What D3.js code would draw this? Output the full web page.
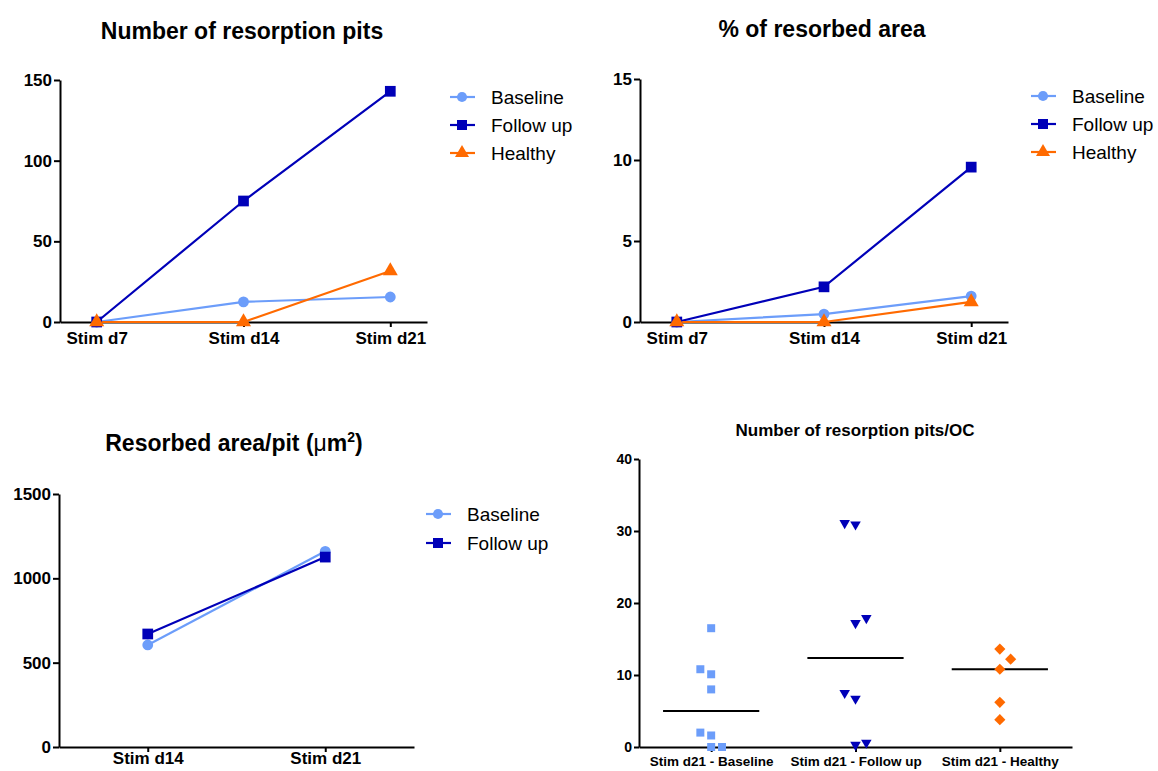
<!DOCTYPE html>
<html>
<head>
<meta charset="utf-8">
<script src="https://cdn.jsdelivr.net/npm/d3@7"></script>
<style>
  body { margin: 0; background: #fff; }
  svg { display: block; font-family: 'Liberation Sans', Arial, sans-serif; }
  .axis path, .axis line { stroke: #000; stroke-width: 2px; }
  .axis text { font-weight: bold; fill: #000; }
  .title { font-weight: bold; fill: #000; }
  .legend text { fill: #000; }
</style>
</head>
<body>
<div id="chart"></div>
<script>
// --- data ---
const days = ['Stim d7', 'Stim d14', 'Stim d21'];
const pitsBaseline = [0, 12.5, 15.5];
const pitsFollowUp = [0, 75, 143];
const pitsHealthy = [0, 0, 31.6];

const areaBaseline = [0, 0.49, 1.6];
const areaFollowUp = [0, 2.17, 9.56];
const areaHealthy = [0, 0, 1.24];

const perPitDays = ['Stim d14', 'Stim d21'];
const perPitBaseline = [605, 1160];
const perPitFollowUp = [670, 1126];

const ocGroups = ['Stim d21 - Baseline', 'Stim d21 - Follow up', 'Stim d21 - Healthy'];
const ocBaseline = [16.5, 10.8, 10.1, 8.0, 2.0, 1.6, 0, 0];
const ocBaselineSlot = [0, -1, 0, 0, -1, 0, 0, 1];
const ocFollowUp = [31.1, 30.9, 17.9, 17.2, 7.5, 6.7, 0.6, 0.3];
const ocFollowUpSlot = [-1, 0, 1, 0, -1, 0, 1, 0];
const ocHealthy = [13.6, 12.2, 10.8, 6.2, 3.8];
const ocHealthySlot = [0, 1, 0, 0, 0];

const colors = {'Baseline': '#6c9dfa', 'Follow up': '#0000b8', 'Healthy': '#ff6a00'};
const shapes = {'Baseline': d3.symbolCircle, 'Follow up': d3.symbolSquare, 'Healthy': d3.symbolTriangle};
const shapeSize = {'Baseline': 80, 'Follow up': 100, 'Healthy': 85};

const W = 1158, H = 771;
const svg = d3.select('#chart').append('svg').attr('width', W).attr('height', H);

const linePanel = (opt) => {
    const g = svg.append('g');
    const x = d3.scalePoint().domain(opt.cats).range(opt.xr).padding(opt.pad);
    const y = d3.scaleLinear().domain([0, opt.max]).range(opt.yr);

    g.append('g').attr('class', 'axis')
        .attr('transform', `translate(0,${opt.yr[0]})`)
        .call(d3.axisBottom(x).tickSize(5).tickSizeOuter(0).tickPadding(opt.xPad))
        .selectAll('text').style('font-size', '17px');
    g.append('g').attr('class', 'axis')
        .attr('transform', `translate(${opt.xr[0]},0)`)
        .call(d3.axisLeft(y).tickValues(opt.ticks).tickFormat(d3.format('d'))
            .tickSize(6).tickSizeOuter(0).tickPadding(2))
        .selectAll('text').style('font-size', '17px');

    const line = d3.line().x((d, i) => x(opt.cats[i])).y(d => y(d));
    opt.series.forEach(s => {
        g.append('path').datum(s.values)
            .attr('fill', 'none').attr('stroke', colors[s.name]).attr('stroke-width', 2.2)
            .attr('d', line);
    });
    opt.series.forEach(s => {
        g.selectAll(null).data(s.values).enter().append('path')
            .attr('transform', (d, i) => `translate(${x(opt.cats[i])},${y(d)})`)
            .attr('d', d3.symbol(shapes[s.name], shapeSize[s.name] * 1.15))
            .attr('fill', colors[s.name]);
    });

    g.append('text').attr('class', 'title')
        .attr('x', opt.titleX).attr('y', opt.titleY)
        .attr('text-anchor', 'middle').style('font-size', '23px')
        .call(opt.titleFn);

    const lg = g.append('g').attr('class', 'legend');
    opt.series.forEach((s, i) => {
        const yy = opt.legY + i * opt.legStep;
        lg.append('line').attr('x1', opt.legX - 12).attr('x2', opt.legX + 13)
            .attr('y1', yy).attr('y2', yy)
            .attr('stroke', colors[s.name]).attr('stroke-width', 2.2);
        lg.append('path').attr('transform', `translate(${opt.legX},${yy})`)
            .attr('d', d3.symbol(shapes[s.name], shapeSize[s.name]))
            .attr('fill', colors[s.name]);
        lg.append('text').attr('x', opt.legX + 29).attr('y', yy + 7)
            .style('font-size', '19px').text(s.name);
    });
};

linePanel({
    cats: days, xr: [60, 427], yr: [322, 80], pad: 0.25, max: 150, ticks: [0, 50, 100, 150], xPad: 5,
    series: [{name: 'Baseline', values: pitsBaseline}, {name: 'Follow up', values: pitsFollowUp}, {name: 'Healthy', values: pitsHealthy}],
    titleX: 242, titleY: 39, titleFn: t => t.text('Number of resorption pits'),
    legX: 462, legY: 97, legStep: 28
});

linePanel({
    cats: days, xr: [640, 1008], yr: [322, 79], pad: 0.25, max: 15, ticks: [0, 5, 10, 15], xPad: 5,
    series: [{name: 'Baseline', values: areaBaseline}, {name: 'Follow up', values: areaFollowUp}, {name: 'Healthy', values: areaHealthy}],
    titleX: 822, titleY: 37, titleFn: t => t.text('% of resorbed area'),
    legX: 1043, legY: 96, legStep: 28
});

linePanel({
    cats: perPitDays, xr: [59, 414], yr: [747, 494], pad: 0.5, max: 1500, ticks: [0, 500, 1000, 1500], xPad: 0,
    series: [{name: 'Baseline', values: perPitBaseline}, {name: 'Follow up', values: perPitFollowUp}],
    titleX: 234, titleY: 451,
    titleFn: t => {
        t.append('tspan').text('Resorbed area/pit (');
        t.append('tspan').style('font-weight', 'normal').text('\u03bc');
        t.append('tspan').text('m');
        t.append('tspan').attr('dy', -9).style('font-size', '14px').text('2');
        t.append('tspan').attr('dy', 9).text(')');
    },
    legX: 438, legY: 514, legStep: 29
});

// --- scatter panel: Number of resorption pits/OC ---
{
    const g = svg.append('g');
    const x = d3.scalePoint().domain(ocGroups).range([639, 1072]).padding(0.5);
    const y = d3.scaleLinear().domain([0, 40]).range([747, 459]);
    const jit = x.step() * 0.075;

    g.append('g').attr('class', 'axis')
        .attr('transform', 'translate(0,747)')
        .call(d3.axisBottom(x).tickSize(5).tickSizeOuter(0).tickPadding(4))
        .selectAll('text').style('font-size', '13.5px');
    g.append('g').attr('class', 'axis')
        .attr('transform', 'translate(639,0)')
        .call(d3.axisLeft(y).tickValues([0, 10, 20, 30, 40]).tickSize(5).tickSizeOuter(0).tickPadding(2))
        .selectAll('text').style('font-size', '14px');

    const groups = [
        {cat: ocGroups[0], vals: ocBaseline, slot: ocBaselineSlot, color: colors['Baseline'], sym: d3.symbolSquare, size: 64, rot: 0},
        {cat: ocGroups[1], vals: ocFollowUp, slot: ocFollowUpSlot, color: colors['Follow up'], sym: d3.symbolTriangle, size: 48, rot: 180},
        {cat: ocGroups[2], vals: ocHealthy, slot: ocHealthySlot, color: colors['Healthy'], sym: d3.symbolSquare, size: 62, rot: 45}
    ];
    groups.forEach(gr => {
        const med = d3.median(gr.vals);
        g.append('line')
            .attr('x1', x(gr.cat) - x.step() / 3).attr('x2', x(gr.cat) + x.step() / 3)
            .attr('y1', y(med)).attr('y2', y(med))
            .attr('stroke', '#000').attr('stroke-width', 2);
        g.selectAll(null).data(gr.vals).enter().append('path')
            .attr('transform', (d, i) => `translate(${x(gr.cat) + gr.slot[i] * jit},${y(d)}) rotate(${gr.rot})`)
            .attr('d', d3.symbol(gr.sym, gr.size))
            .attr('fill', gr.color);
    });

    g.append('text').attr('class', 'title')
        .attr('x', 855).attr('y', 436).attr('text-anchor', 'middle')
        .style('font-size', '17px').text('Number of resorption pits/OC');
}
</script>
</body>
</html>
